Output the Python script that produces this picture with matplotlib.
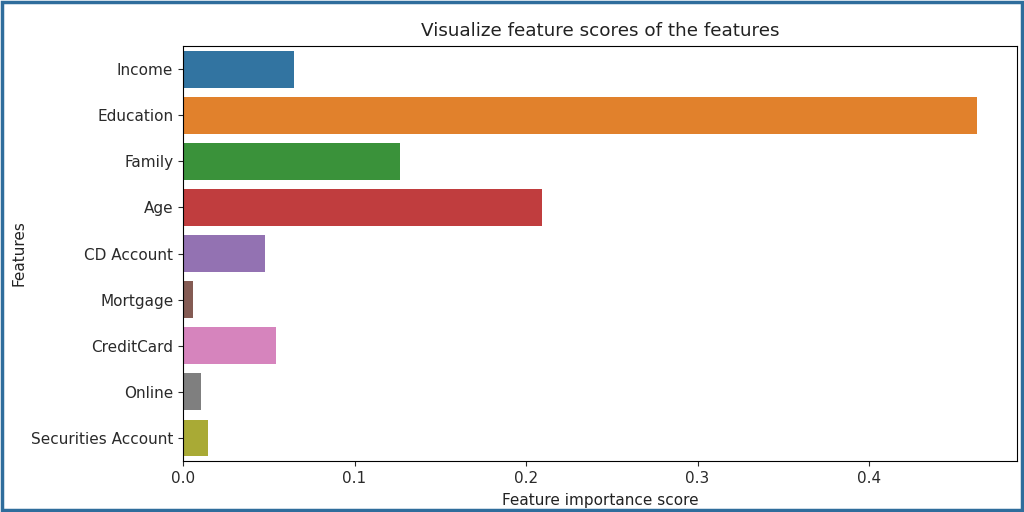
import matplotlib
matplotlib.use("Agg")
import matplotlib.pyplot as plt
import seaborn as sns
from matplotlib.patches import Rectangle

features = ["Income", "Education", "Family", "Age", "CD Account",
            "Mortgage", "CreditCard", "Online", "Securities Account"]
scores = [0.0649, 0.463, 0.1265, 0.2093, 0.0478, 0.0058, 0.0542, 0.0105, 0.0148]

colors = [sns.desaturate(c, 0.75) for c in sns.color_palette("tab10", len(features))]

fig = plt.figure(figsize=(10.24, 5.12), dpi=100)
ax = fig.add_axes([0.1787, 0.0996, 0.8143, 0.8104])

ypos = list(range(len(features)))
ax.barh(ypos, scores, height=0.8, color=colors)
ax.set_yticks(ypos)
ax.set_yticklabels(features)
ax.set_ylim(len(features) - 0.5, -0.5)
ax.set_xlim(0, max(scores) * 1.05)
ax.set_xticks([0.0, 0.1, 0.2, 0.3, 0.4])
ax.tick_params(labelsize=11, colors="#2a2a2a")

ax.set_title("Visualize feature scores of the features", fontsize=13.2, pad=7, color="#222222")
ax.set_xlabel("Feature importance score", fontsize=11, labelpad=5, color="#222222")
ax.set_ylabel("Features", fontsize=11, labelpad=3, color="#222222")

# outer frame around the picture
fig.patches.append(Rectangle((0.0015, 0.003), 0.997, 0.994, transform=fig.transFigure,
                             fill=False, edgecolor="#2f6d9c", linewidth=2.5))

fig.savefig("out.png", dpi=100)
